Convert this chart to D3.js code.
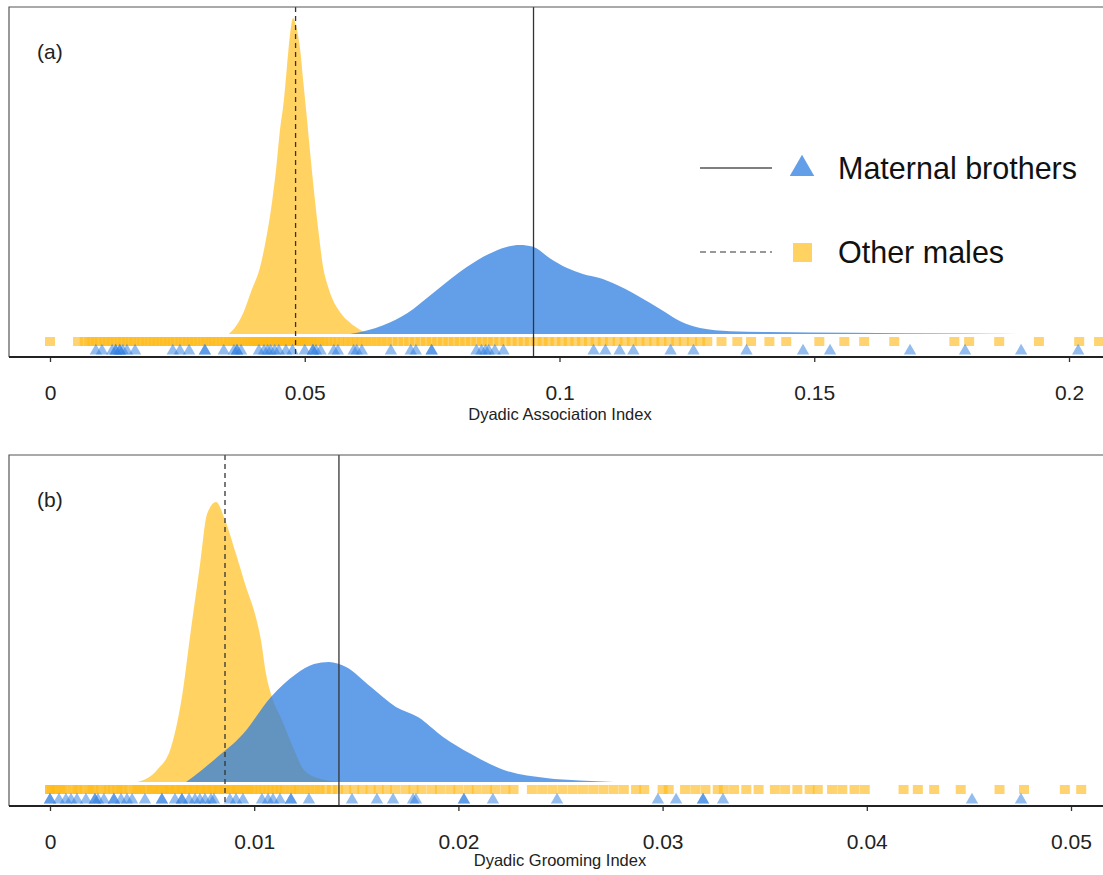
<!DOCTYPE html>
<html>
<head>
<meta charset="utf-8">
<script src="https://cdn.jsdelivr.net/npm/d3@7/dist/d3.min.js"></script>
<style>
  body { margin: 0; background: #fff; }
  svg { display: block; font-family: "Liberation Sans", Arial, sans-serif; }
</style>
</head>
<body>
<div id="okvir"></div>
<script>
// ---- (a) association index ----
const assocTicks = [0, 0.05, 0.1, 0.15, 0.2]
const assocTickLabels = ["0", "0.05", "0.1", "0.15", "0.2"]

// density curves: [value, relative density]
const assocOtherDensity = [
  [0.0351, 0], [0.0365, 0.025], [0.0379, 0.066], [0.0396, 0.14], [0.0412, 0.21],
  [0.0424, 0.30], [0.0436, 0.42], [0.0444, 0.525], [0.0451, 0.64], [0.0459, 0.74],
  [0.0465, 0.845], [0.0471, 0.946], [0.0477, 1.0], [0.0483, 0.975], [0.0491, 0.90],
  [0.0497, 0.80], [0.0504, 0.687], [0.0512, 0.55], [0.0520, 0.424], [0.0528, 0.31],
  [0.0536, 0.212], [0.0546, 0.149], [0.0555, 0.108], [0.0569, 0.07], [0.0583, 0.044],
  [0.0603, 0.019], [0.0622, 0.003], [0.0632, 0]
]
const assocBrotherDensity = [
  [0.0589, 0], [0.0654, 0.028], [0.0701, 0.066], [0.0752, 0.13], [0.0818, 0.212],
  [0.0869, 0.259], [0.0922, 0.282], [0.0948, 0.276], [0.0981, 0.24], [0.1015, 0.209],
  [0.1046, 0.19], [0.1079, 0.177], [0.1113, 0.155], [0.1144, 0.13], [0.1178, 0.098],
  [0.1207, 0.07], [0.1237, 0.04], [0.1276, 0.019], [0.1335, 0.009], [0.1413, 0.006],
  [0.1570, 0.004], [0.1678, 0.002], [0.1963, 0]
]

// individual dyads (rug)
const assocOther = [0.0000, 0.0055, 0.0068, 0.0076, 0.0083, 0.0091, 0.0098, 0.0107, 0.0114, 0.0121,
  0.0129, 0.0137, 0.0143, 0.0152, 0.0159, 0.0166, 0.0174, 0.0181, 0.0189, 0.0197, 0.0204, 0.0211,
  0.0219, 0.0226, 0.0233, 0.0241, 0.0248, 0.0256, 0.0263, 0.0271, 0.0278, 0.0285, 0.0293, 0.0301,
  0.0307, 0.0315, 0.0322, 0.0329, 0.0337, 0.0344, 0.0351, 0.0358, 0.0364, 0.0371, 0.0377, 0.0383,
  0.0389, 0.0394, 0.0399, 0.0404, 0.0409, 0.0413, 0.0418, 0.0422, 0.0426, 0.0431, 0.0435, 0.0439,
  0.0443, 0.0447, 0.0451, 0.0455, 0.0459, 0.0463, 0.0467, 0.0471, 0.0475, 0.0479, 0.0483, 0.0487,
  0.0491, 0.0496, 0.0501, 0.0506, 0.0511, 0.0517, 0.0523, 0.0529, 0.0536, 0.0543, 0.0551, 0.0559,
  0.0567, 0.0576, 0.0585, 0.0594, 0.0603, 0.0612, 0.0621, 0.0631, 0.0641, 0.0651, 0.0661, 0.0672,
  0.0683, 0.0694, 0.0705, 0.0716, 0.0727, 0.0738, 0.0749, 0.0760, 0.0771, 0.0782, 0.0793, 0.0804,
  0.0815, 0.0826, 0.0837, 0.0848, 0.0859, 0.0870, 0.0882, 0.0894, 0.0906, 0.0918, 0.0930, 0.0942,
  0.0955, 0.0967, 0.0979, 0.0992, 0.1005, 0.1018, 0.1031, 0.1044, 0.1058, 0.1071, 0.1085, 0.1099,
  0.1114, 0.1128, 0.1142, 0.1157, 0.1171, 0.1186, 0.1200, 0.1215, 0.1229, 0.1244, 0.1260, 0.1276,
  0.1290, 0.1318, 0.1349, 0.1376, 0.1412, 0.1445, 0.1510, 0.1559, 0.1598, 0.1657, 0.1775, 0.1804,
  0.1863, 0.1941, 0.2020, 0.2059]
const assocBrothers = [0.0090, 0.0102, 0.0122, 0.0129, 0.0129, 0.0137, 0.0137, 0.0143, 0.0151, 0.0167,
  0.0241, 0.0255, 0.0273, 0.0304, 0.0304, 0.0341, 0.0361, 0.0367, 0.0367, 0.0375, 0.0410, 0.0420,
  0.0427, 0.0433, 0.0441, 0.0449, 0.0463, 0.0476, 0.0500, 0.0516, 0.0516, 0.0522, 0.0531, 0.0557,
  0.0565, 0.0596, 0.0602, 0.0612, 0.0669, 0.0708, 0.0718, 0.0749, 0.0749, 0.0837, 0.0847, 0.0855,
  0.0861, 0.0873, 0.0890, 0.1067, 0.1090, 0.1118, 0.1145, 0.1218, 0.1263, 0.1367, 0.1478, 0.1531,
  0.1688, 0.1796, 0.1906, 0.2018]
const assocMeanOther = 0.0482
const assocMeanBrothers = 0.0949

// ---- (b) grooming index ----
const groomTicks = [0, 0.01, 0.02, 0.03, 0.04, 0.05]
const groomTickLabels = ["0", "0.01", "0.02", "0.03", "0.04", "0.05"]

const groomOtherDensity = [
  [0.00428, 0], [0.00524, 0.043], [0.00593, 0.125], [0.00646, 0.304], [0.0069, 0.543],
  [0.00735, 0.779], [0.00769, 0.957], [0.00813, 1.0], [0.00857, 0.936], [0.00911, 0.814],
  [0.0096, 0.696], [0.01004, 0.6], [0.01033, 0.507], [0.01058, 0.386], [0.01082, 0.314],
  [0.01136, 0.221], [0.0119, 0.125], [0.01244, 0.043], [0.01327, 0.011], [0.01435, 0]
]
const groomBrotherDensity = [
  [0.00666, 0], [0.0070, 0.018], [0.00803, 0.079], [0.00945, 0.171], [0.01082, 0.304],
  [0.01205, 0.386], [0.01293, 0.421], [0.01366, 0.429], [0.0145, 0.411], [0.01572, 0.339],
  [0.01694, 0.268], [0.01802, 0.232], [0.01925, 0.161], [0.02062, 0.1], [0.02223, 0.043],
  [0.02429, 0.014], [0.02595, 0.005], [0.02762, 0]
]

const groomOther = [0.0000, 0.0000, 0.0001, 0.0003, 0.0005, 0.0006, 0.0008, 0.0011, 0.0013, 0.0014,
  0.0017, 0.0019, 0.0021, 0.0022, 0.0025, 0.0027, 0.0029, 0.0031, 0.0033, 0.0035, 0.0036, 0.0039,
  0.0041, 0.0043, 0.0044, 0.0046, 0.0048, 0.0050, 0.0051, 0.0053, 0.0055, 0.0056, 0.0058, 0.0059,
  0.0061, 0.0062, 0.0064, 0.0065, 0.0067, 0.0068, 0.0070, 0.0071, 0.0073, 0.0074, 0.0076, 0.0077,
  0.0079, 0.0080, 0.0082, 0.0083, 0.0085, 0.0086, 0.0088, 0.0089, 0.0091, 0.0092, 0.0094, 0.0096,
  0.0097, 0.0099, 0.0101, 0.0103, 0.0105, 0.0107, 0.0109, 0.0111, 0.0113, 0.0115, 0.0118, 0.0120,
  0.0122, 0.0125, 0.0127, 0.0130, 0.0132, 0.0135, 0.0138, 0.0141, 0.0145, 0.0149, 0.0153, 0.0157,
  0.0161, 0.0165, 0.0169, 0.0174, 0.0178, 0.0182, 0.0187, 0.0191, 0.0196, 0.0200, 0.0205, 0.0209,
  0.0214, 0.0218, 0.0223, 0.0227, 0.0236, 0.0241, 0.0246, 0.0251, 0.0256, 0.0261, 0.0266, 0.0271,
  0.0276, 0.0281, 0.0287, 0.0291, 0.0300, 0.0303, 0.0311, 0.0316, 0.0321, 0.0327, 0.0330, 0.0335,
  0.0341, 0.0347, 0.0355, 0.0360, 0.0366, 0.0372, 0.0376, 0.0383, 0.0388, 0.0394, 0.0399, 0.0418,
  0.0425, 0.0433, 0.0446, 0.0465, 0.0477, 0.0497, 0.0505]
const groomBrothers = [0.0000, 0.0000, 0.00044, 0.00078, 0.00103, 0.00132, 0.00176, 0.0022, 0.0022,
  0.00235, 0.00264, 0.00313, 0.00313, 0.00348, 0.00377, 0.00402, 0.00465, 0.00548, 0.00548, 0.00612,
  0.00646, 0.00646, 0.00681, 0.0071, 0.00734, 0.00759, 0.00788, 0.00803, 0.00881, 0.00911, 0.00945,
  0.01038, 0.01068, 0.01092, 0.01126, 0.0118, 0.0118, 0.01268, 0.01479, 0.01601, 0.0168, 0.01778,
  0.01792, 0.02027, 0.02027, 0.02169, 0.02483, 0.02977, 0.03066, 0.03198, 0.03198, 0.03296,
  0.04515, 0.04755]
const groomMeanOther = 0.00857
const groomMeanBrothers = 0.01415

const legendLabels = ["Maternal brothers", "Other males"]

// ---- colours ----
const yellow = "#FFC125"
const blue = "#2F7FE0"
const lineCol = "#333"

// 1. svg
const okvir = d3.select("#okvir")
  .append("svg")
    .attr("width", 1103)
    .attr("height", 875)

function crtajPanel(p) {
  const g = okvir.append("g")

  // 2. scales
  const xSkala = d3.scaleLinear()
    .domain([p.ticks[0], p.ticks[p.ticks.length - 1]])
    .range([50, p.xEnd])

  const ySkala = d3.scaleLinear()
    .domain([0, 1])
    .range([p.base, p.peak])

  // 3. densities
  const area = d3.area()
    .x(d => xSkala(d[0]))
    .y0(p.base)
    .y1(d => ySkala(d[1]))
    .curve(d3.curveMonotoneX)

  g.append("path")
    .datum(p.otherDensity)
    .attr("d", area)
    .attr("fill", yellow)
    .attr("fill-opacity", 0.72)

  g.append("path")
    .datum(p.brotherDensity)
    .attr("d", area)
    .attr("fill", blue)
    .attr("fill-opacity", 0.75)

  // 4. rugs
  g.append("g").selectAll("rect")
    .data(p.other)
    .join("rect")
      .attr("x", d => xSkala(d) - 5)
      .attr("y", p.base + 3)
      .attr("width", 10)
      .attr("height", 9)
      .attr("fill", "#FFBA18")
      .attr("fill-opacity", 0.62)

  const tri = d3.symbol().type(d3.symbolTriangle).size(66)
  g.append("g").selectAll("path")
    .data(p.brothers)
    .join("path")
      .attr("d", tri)
      .attr("transform", d => `translate(${xSkala(d)}, ${p.axisY - 6})`)
      .attr("fill", blue)
      .attr("fill-opacity", 0.52)

  // 5. mean lines
  g.append("line")
    .attr("x1", xSkala(p.meanOther)).attr("x2", xSkala(p.meanOther))
    .attr("y1", p.top).attr("y2", p.axisY)
    .attr("stroke", lineCol)
    .attr("stroke-width", 1.3)
    .attr("stroke-dasharray", "5,4")

  g.append("line")
    .attr("x1", xSkala(p.meanBrothers)).attr("x2", xSkala(p.meanBrothers))
    .attr("y1", p.top).attr("y2", p.axisY)
    .attr("stroke", lineCol)
    .attr("stroke-width", 1.3)

  // 6. frame
  g.append("path")
    .attr("d", `M1110,${p.top}H9V${p.axisY}`)
    .attr("fill", "none")
    .attr("stroke", "#555")
    .attr("stroke-width", 1.2)

  const xOs = g.append("g")
    .attr("transform", `translate(0, ${p.axisY})`)
    .call(d3.axisBottom(xSkala)
      .tickValues(p.ticks)
      .tickFormat((d, i) => p.tickLabels[i])
      .tickSize(5)
      .tickPadding(23))
  xOs.select(".domain").remove()
  g.append("line")
    .attr("x1", 9).attr("x2", 1110)
    .attr("y1", p.axisY).attr("y2", p.axisY)
    .attr("stroke", "#222")
    .attr("stroke-width", 1.8)
  xOs.selectAll(".tick line").attr("stroke", "#333").attr("stroke-width", 1.3)
  xOs.selectAll(".tick text")
    .attr("fill", "#222")
    .style("font-size", "21px")
    .style("font-family", "Liberation Sans, Arial, sans-serif")

  g.append("text")
    .attr("x", 560)
    .attr("y", p.axisY + p.titleGap)
    .attr("text-anchor", "middle")
    .attr("fill", "#222")
    .style("font-size", "16.5px")
    .text(p.title)

  g.append("text")
    .attr("x", 37)
    .attr("y", p.top + 52)
    .attr("fill", "#222")
    .style("font-size", "21px")
    .text(p.label)
}

crtajPanel({
  ticks: assocTicks, tickLabels: assocTickLabels, xEnd: 1069,
  top: 7, axisY: 357, base: 334, peak: 18, titleGap: 63,
  otherDensity: assocOtherDensity, brotherDensity: assocBrotherDensity,
  other: assocOther, brothers: assocBrothers,
  meanOther: assocMeanOther, meanBrothers: assocMeanBrothers,
  title: "Dyadic Association Index", label: "(a)"
})

crtajPanel({
  ticks: groomTicks, tickLabels: groomTickLabels, xEnd: 1071,
  top: 455, axisY: 806, base: 782, peak: 502, titleGap: 60,
  otherDensity: groomOtherDensity, brotherDensity: groomBrotherDensity,
  other: groomOther, brothers: groomBrothers,
  meanOther: groomMeanOther, meanBrothers: groomMeanBrothers,
  title: "Dyadic Grooming Index", label: "(b)"
})

// 7. legend
const legenda = okvir.append("g")

legenda.append("line")
  .attr("x1", 700).attr("x2", 772).attr("y1", 168).attr("y2", 168)
  .attr("stroke", "#555").attr("stroke-width", 1.3)
legenda.append("path")
  .attr("d", d3.symbol().type(d3.symbolTriangle).size(260))
  .attr("transform", "translate(802, 169)")
  .attr("fill", blue).attr("fill-opacity", 0.75)

legenda.append("line")
  .attr("x1", 700).attr("x2", 772).attr("y1", 252).attr("y2", 252)
  .attr("stroke", "#333").attr("stroke-width", 1.2)
  .attr("stroke-dasharray", "6,4")
legenda.append("rect")
  .attr("x", 793).attr("y", 243).attr("width", 19).attr("height", 19)
  .attr("fill", yellow).attr("fill-opacity", 0.72)

legenda.selectAll("text")
  .data(legendLabels)
  .join("text")
    .attr("x", 838)
    .attr("y", (d, i) => 179 + i * 84)
    .attr("fill", "#111")
    .style("font-size", "30.5px")
    .text(d => d)
</script>
</body>
</html>
